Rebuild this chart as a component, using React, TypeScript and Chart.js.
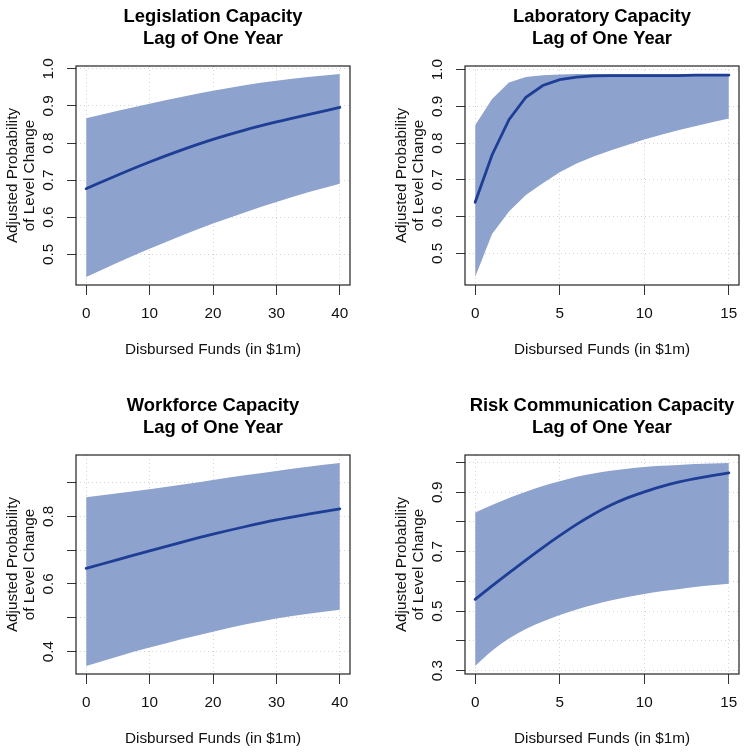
import React, { useEffect, useRef } from 'react';
import { Chart, registerables } from 'chart.js';

Chart.register(...registerables);

const FONT = '"Liberation Sans", Arial, Helvetica, sans-serif';
const BAND = 'rgb(141,162,205)';
const LINE = 'rgb(30,62,150)';

const xTitle = 'Disbursed Funds (in $1m)';
const yTitle = ['Adjusted Probability', 'of Level Change'];

// Legislation Capacity
const legTitle = ['Legislation Capacity', 'Lag of One Year'];
const legX = [0, 5, 10, 15, 20, 25, 30, 35, 40];
const legMean = [0.677, 0.714, 0.749, 0.781, 0.81, 0.835, 0.857, 0.877, 0.896];
const legUpper = [0.867, 0.887, 0.906, 0.924, 0.941, 0.956, 0.968, 0.978, 0.986];
const legLower = [0.439, 0.478, 0.515, 0.55, 0.583, 0.613, 0.641, 0.667, 0.69];
const legXTicks = [0, 10, 20, 30, 40];
const legYTicks = [0.5, 0.6, 0.7, 0.8, 0.9, 1.0];
const legYTickLabels = ['0.5', '0.6', '0.7', '0.8', '0.9', '1.0'];

// Laboratory Capacity
const labTitle = ['Laboratory Capacity', 'Lag of One Year'];
const labX = [0, 1, 2, 3, 4, 5, 6, 7, 8, 9, 10, 11, 12, 13, 14, 15];
const labMean = [0.639, 0.768, 0.864, 0.925, 0.957, 0.973, 0.98, 0.983, 0.984, 0.984, 0.984, 0.984, 0.984, 0.985, 0.985, 0.985];
const labUpper = [0.849, 0.92, 0.965, 0.98, 0.985, 0.987, 0.988, 0.988, 0.988, 0.988, 0.988, 0.988, 0.988, 0.988, 0.988, 0.988];
const labLower = [0.436, 0.553, 0.614, 0.659, 0.691, 0.721, 0.745, 0.764, 0.78, 0.795, 0.81, 0.823, 0.835, 0.846, 0.857, 0.867];
const labXTicks = [0, 5, 10, 15];
const labYTicks = [0.5, 0.6, 0.7, 0.8, 0.9, 1.0];
const labYTickLabels = ['0.5', '0.6', '0.7', '0.8', '0.9', '1.0'];

// Workforce Capacity
const wfTitle = ['Workforce Capacity', 'Lag of One Year'];
const wfX = [0, 5, 10, 15, 20, 25, 30, 35, 40];
const wfMean = [0.646, 0.672, 0.698, 0.723, 0.747, 0.769, 0.789, 0.806, 0.822];
const wfUpper = [0.856, 0.868, 0.88, 0.893, 0.907, 0.921, 0.934, 0.946, 0.957];
const wfLower = [0.358, 0.386, 0.412, 0.437, 0.459, 0.48, 0.498, 0.512, 0.524];
const wfXTicks = [0, 10, 20, 30, 40];
const wfYTicks = [0.4, 0.5, 0.6, 0.7, 0.8, 0.9];
const wfYTickLabels = ['0.4', '', '0.6', '', '0.8', ''];

// Risk Communication Capacity
const rcTitle = ['Risk Communication Capacity', 'Lag of One Year'];
const rcX = [0, 1, 2, 3, 4, 5, 6, 7, 8, 9, 10, 11, 12, 13, 14, 15];
const rcMean = [0.54, 0.585, 0.629, 0.672, 0.714, 0.754, 0.792, 0.826, 0.856, 0.881, 0.901, 0.919, 0.934, 0.946, 0.956, 0.965];
const rcUpper = [0.832, 0.857, 0.881, 0.902, 0.921, 0.937, 0.952, 0.963, 0.972, 0.979, 0.985, 0.989, 0.992, 0.995, 0.997, 0.998];
const rcLower = [0.316, 0.367, 0.408, 0.44, 0.465, 0.487, 0.506, 0.522, 0.536, 0.548, 0.558, 0.567, 0.574, 0.581, 0.587, 0.592];
const rcXTicks = [0, 5, 10, 15];
const rcYTicks = [0.3, 0.4, 0.5, 0.6, 0.7, 0.8, 0.9, 1.0];
const rcYTickLabels = ['0.3', '', '0.5', '', '0.7', '', '0.9', ''];

const boxPlugin = {
  id: 'plotBox',
  afterDatasetsDraw(chart: any) {
    const { ctx, chartArea: a } = chart;
    ctx.save();
    ctx.strokeStyle = '#222';
    ctx.lineWidth = 1.2;
    ctx.strokeRect(a.left, a.top, a.right - a.left, a.bottom - a.top);
    ctx.restore();
  },
};

function padRange(vals: number[]) {
  const mn = Math.min(...vals);
  const mx = Math.max(...vals);
  const p = (mx - mn) * 0.04;
  return [mn - p, mx + p];
}

type PanelProps = {
  left: number;
  top: number;
  title: string[];
  xs: number[];
  mean: number[];
  upper: number[];
  lower: number[];
  xTicks: number[];
  yTicks: number[];
  yLabels: string[];
  smooth: boolean;
};

function Panel(props: PanelProps) {
  const ref = useRef<HTMLCanvasElement>(null);
  useEffect(() => {
    const { title, xs, mean, upper, lower, xTicks, yTicks, yLabels, smooth } = props;
    const [xMin, xMax] = padRange(xs);
    const [yMin, yMax] = padRange([...upper, ...lower]);
    const pts = (arr: number[]) => xs.map((x, i) => ({ x, y: arr[i] }));
    const interp = smooth ? 'monotone' : 'default';
    const chart = new Chart(ref.current as HTMLCanvasElement, {
      type: 'line',
      data: {
        datasets: [
          {
            label: 'Estimate',
            data: pts(mean),
            borderColor: LINE,
            borderWidth: 2.8,
            borderCapStyle: 'round',
            pointRadius: 0,
            fill: false,
            tension: 0,
            cubicInterpolationMode: interp as any,
          },
          {
            label: 'Upper',
            data: pts(upper),
            borderWidth: 0,
            borderColor: 'rgba(0,0,0,0)',
            backgroundColor: BAND,
            pointRadius: 0,
            fill: '+1',
            tension: 0,
            cubicInterpolationMode: interp as any,
          },
          {
            label: 'Lower',
            data: pts(lower),
            borderWidth: 0,
            borderColor: 'rgba(0,0,0,0)',
            backgroundColor: BAND,
            pointRadius: 0,
            fill: false,
            tension: 0,
            cubicInterpolationMode: interp as any,
          },
        ],
      },
      options: {
        responsive: false,
        animation: false,
        layout: { padding: { left: 0, top: 0, right: 39, bottom: 0 } },
        plugins: {
          legend: { display: false },
          tooltip: { enabled: false },
          title: {
            display: true,
            text: title,
            fullSize: false,
            color: '#000',
            font: { family: FONT, size: 18.4, weight: 'bold', lineHeight: 1.2 },
            padding: { top: 6, bottom: 15.84 },
          },
        },
        scales: {
          x: {
            type: 'linear',
            min: xMin,
            max: xMax,
            afterBuildTicks: (s: any) => {
              s.ticks = xTicks.map((v) => ({ value: v }));
            },
            afterFit: (s: any) => {
              s.height = 104;
            },
            grid: {
              color: '#D3D3D3',
              lineWidth: 1,
              drawTicks: true,
              tickLength: 10,
              tickColor: '#333',
              tickWidth: 1,
              tickBorderDash: [],
            },
            border: { display: false, dash: [1, 3] },
            ticks: {
              color: '#111',
              font: { family: FONT, size: 15.3, lineHeight: 1.2 },
              padding: 9.8,
              maxRotation: 0,
              minRotation: 0,
              autoSkip: false,
              callback: (v: any) => String(v),
            },
            title: {
              display: true,
              text: xTitle,
              color: '#111',
              font: { family: FONT, size: 15.3, lineHeight: 1.2 },
              padding: { top: 0, bottom: 29.8 },
            },
          },
          y: {
            type: 'linear',
            min: yMin,
            max: yMax,
            afterBuildTicks: (s: any) => {
              s.ticks = yTicks.map((v) => ({ value: v }));
            },
            afterFit: (s: any) => {
              s.width = 76;
            },
            grid: {
              color: '#D3D3D3',
              lineWidth: 1,
              drawTicks: true,
              tickLength: 9,
              tickColor: '#333',
              tickWidth: 1,
              tickBorderDash: [],
            },
            border: { display: false, dash: [1, 3] },
            ticks: {
              color: '#111',
              font: { family: FONT, size: 15.3, lineHeight: 1.2 },
              padding: 8,
              minRotation: 90,
              maxRotation: 90,
              crossAlign: 'center',
              autoSkip: false,
              callback: (_v: any, i: number) => yLabels[i],
            },
            title: {
              display: true,
              text: yTitle,
              color: '#111',
              font: { family: FONT, size: 15.3, lineHeight: 1.136 },
              padding: { top: 3.75, bottom: 0 },
            },
          },
        },
      } as any,
      plugins: [boxPlugin],
    });
    return () => chart.destroy();
  }, []);
  return (
    <canvas
      ref={ref}
      width={389}
      height={389}
      style={{ position: 'absolute', left: props.left, top: props.top, width: 389, height: 389 }}
    />
  );
}

export default function App() {
  return (
    <div
      style={{
        position: 'absolute',
        left: 0,
        top: 0,
        width: 745,
        height: 753,
        overflow: 'hidden',
        background: '#fff',
      }}
    >
      <Panel left={0} top={0} title={legTitle} xs={legX} mean={legMean} upper={legUpper} lower={legLower}
        xTicks={legXTicks} yTicks={legYTicks} yLabels={legYTickLabels} smooth={true} />
      <Panel left={389} top={0} title={labTitle} xs={labX} mean={labMean} upper={labUpper} lower={labLower}
        xTicks={labXTicks} yTicks={labYTicks} yLabels={labYTickLabels} smooth={false} />
      <Panel left={0} top={389} title={wfTitle} xs={wfX} mean={wfMean} upper={wfUpper} lower={wfLower}
        xTicks={wfXTicks} yTicks={wfYTicks} yLabels={wfYTickLabels} smooth={true} />
      <Panel left={389} top={389} title={rcTitle} xs={rcX} mean={rcMean} upper={rcUpper} lower={rcLower}
        xTicks={rcXTicks} yTicks={rcYTicks} yLabels={rcYTickLabels} smooth={true} />
    </div>
  );
}
